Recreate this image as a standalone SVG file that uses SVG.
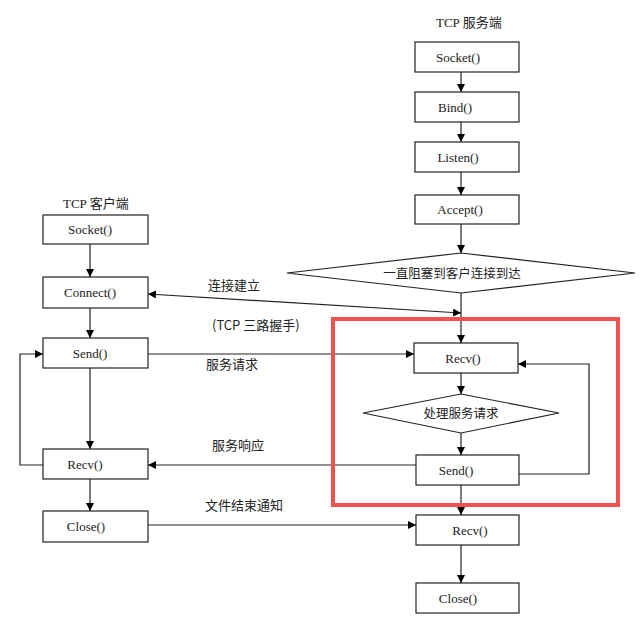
<svg xmlns="http://www.w3.org/2000/svg" width="640" height="628" viewBox="0 0 640 628">
<defs>
<marker id="ah" markerWidth="8" markerHeight="8" refX="8" refY="4" orient="auto" markerUnits="userSpaceOnUse">
<path d="M0,0 L8,4 L0,8 Z" fill="#000"/>
</marker>
<marker id="ahs" markerWidth="8" markerHeight="8" refX="0" refY="4" orient="auto" markerUnits="userSpaceOnUse">
<path d="M8,0 L0,4 L8,8 Z" fill="#000"/>
</marker>
<style>
.box{fill:#fff;stroke:#222;stroke-width:1.2}
.bt{font-family:"Liberation Serif","Noto Sans CJK SC",serif;font-size:13px;fill:#222;text-anchor:middle}
.cn{font-family:"Noto Sans CJK SC","Liberation Sans",sans-serif;font-size:13px;fill:#222}
.ct{font-family:"Noto Sans CJK SC","Liberation Sans",sans-serif;font-size:12.5px;fill:#222;text-anchor:middle}
.ln{fill:none;stroke:#222;stroke-width:1.2}
</style>
</defs>
<rect width="640" height="628" fill="#fff"/>

<g id="connectors">
<path class="ln" d="M90,244 V277" marker-end="url(#ah)"/>
<path class="ln" d="M90,308 V338" marker-end="url(#ah)"/>
<path class="ln" d="M90,368 V449" marker-end="url(#ah)"/>
<path class="ln" d="M90,479 V511" marker-end="url(#ah)"/>
<path class="ln" d="M43,465 H20 V354 H43" marker-end="url(#ah)"/>
<path class="ln" d="M461,72 V92" marker-end="url(#ah)"/>
<path class="ln" d="M461,122 V142" marker-end="url(#ah)"/>
<path class="ln" d="M461,172 V195" marker-end="url(#ah)"/>
<path class="ln" d="M461,224 V253" marker-end="url(#ah)"/>
<path class="ln" d="M461,293 V343" marker-end="url(#ah)"/>
<path class="ln" d="M148,294 L461,313" marker-start="url(#ahs)" marker-end="url(#ah)"/>
<path class="ln" d="M148,354 H414" marker-end="url(#ah)"/>
<path class="ln" d="M461,373 V394" marker-end="url(#ah)"/>
<path class="ln" d="M461,433 V455" marker-end="url(#ah)"/>
<path class="ln" d="M519,474 H589 V364 H518" marker-end="url(#ah)"/>
<path class="ln" d="M416,465 H148" marker-end="url(#ah)"/>
<path class="ln" d="M461,485 V515" marker-end="url(#ah)"/>
<path class="ln" d="M148,525 H416" marker-end="url(#ah)"/>
<path class="ln" d="M461,545 V583" marker-end="url(#ah)"/>
</g>

<g id="labels">
<text class="cn" x="63" y="208"><tspan font-family="Liberation Serif,serif">TCP</tspan> 客户端</text>
<text class="cn" x="436" y="27"><tspan font-family="Liberation Serif,serif">TCP</tspan> 服务端</text>
<text class="cn" x="208" y="290">连接建立</text>
<text class="cn" x="212" y="330">(TCP 三路握手)</text>
<text class="cn" x="206" y="369">服务请求</text>
<text class="cn" x="212" y="450">服务响应</text>
<text class="cn" x="205" y="510">文件结束通知</text>
</g>

<g id="c-socket"><rect class="box" x="43" y="215" width="105" height="29"/><text class="bt" x="90" y="234">Socket()</text></g>
<g id="c-connect"><rect class="box" x="43" y="277" width="105" height="31"/><text class="bt" x="90" y="297">Connect()</text></g>
<g id="c-send"><rect class="box" x="43" y="338" width="105" height="30"/><text class="bt" x="90" y="358">Send()</text></g>
<g id="c-recv"><rect class="box" x="43" y="449" width="105" height="30"/><text class="bt" x="85" y="469">Recv()</text></g>
<g id="c-close"><rect class="box" x="43" y="511" width="105" height="31"/><text class="bt" x="86" y="531">Close()</text></g>

<g id="s-socket"><rect class="box" x="415" y="42" width="104" height="30"/><text class="bt" x="458" y="62">Socket()</text></g>
<g id="s-bind"><rect class="box" x="415" y="92" width="104" height="30"/><text class="bt" x="455" y="112">Bind()</text></g>
<g id="s-listen"><rect class="box" x="415" y="142" width="104" height="30"/><text class="bt" x="458" y="162">Listen()</text></g>
<g id="s-accept"><rect class="box" x="415" y="195" width="104" height="29"/><text class="bt" x="460" y="214">Accept()</text></g>
<g id="s-wait"><polygon class="box" points="287,273 461,253 635,273 461,293"/><text class="ct" x="452" y="278">一直阻塞到客户连接到达</text></g>
<g id="s-recv"><rect class="box" x="414" y="343" width="104" height="30"/><text class="bt" x="463" y="363">Recv()</text></g>
<g id="s-process"><polygon class="box" points="363,413 461,394 559,413 461,433"/><text class="ct" x="461" y="418">处理服务请求</text></g>
<g id="s-send"><rect class="box" x="416" y="455" width="103" height="30"/><text class="bt" x="456" y="475">Send()</text></g>
<g id="s-recv2"><rect class="box" x="416" y="515" width="103" height="30"/><text class="bt" x="470" y="535">Recv()</text></g>
<g id="s-close"><rect class="box" x="416" y="583" width="103" height="30"/><text class="bt" x="458" y="603">Close()</text></g>

<g id="highlight"><rect x="333" y="319" width="285" height="186" fill="none" stroke="#ef5350" stroke-width="4"/></g>
</svg>
